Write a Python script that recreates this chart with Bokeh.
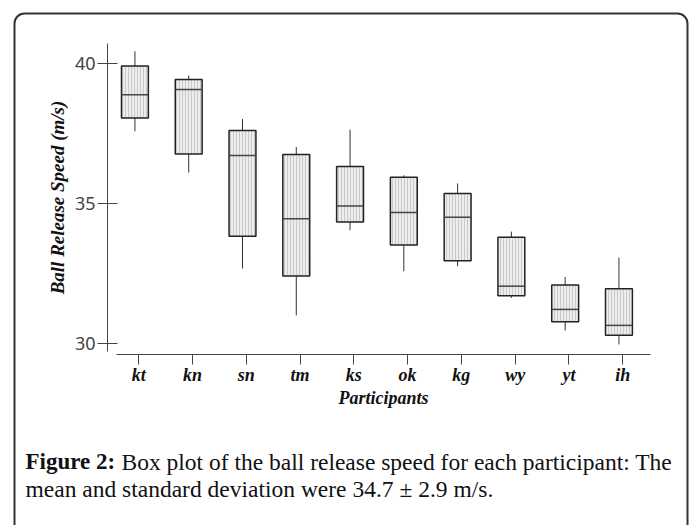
import numpy as np
from bokeh.plotting import figure
from bokeh.models import FixedTicker, BoxAnnotation, Range1d, LinearAxis
from bokeh.core.properties import value
from bokeh.embed import file_html
from bokeh.resources import INLINE

participants = ["kt", "kn", "sn", "tm", "ks", "ok", "kg", "wy", "yt", "ih"]
whisker_high = [40.43, 39.56, 38.01, 37.01, 37.63, 36.00, 35.71, 33.99, 32.37, 33.06]
q3 = [39.90, 39.42, 37.60, 36.74, 36.31, 35.93, 35.35, 33.79, 32.08, 31.95]
median = [38.88, 39.06, 36.71, 34.45, 34.90, 34.67, 34.50, 32.04, 31.21, 30.64]
q1 = [38.05, 36.76, 33.82, 32.40, 34.33, 33.51, 32.95, 31.70, 30.77, 30.29]
whisker_low = [37.57, 36.10, 32.67, 31.00, 34.04, 32.57, 32.75, 31.62, 30.46, 29.96]
y_ticks = [30, 35, 40]
caption_bold = "Figure 2:"
caption_line1 = "Box plot of the ball release speed for each participant: The"
caption_line2 = "mean and standard deviation were 34.7 \u00b1 2.9 m/s."

W, H = 691, 525
# page-pixel -> data mapping (layout only)
X0_PX, X0_VAL, X_SCALE = 107, 0.42, 53.78
Y0_PX, Y0_VAL, Y_SCALE = 354, 29.6, 28.0


def px2x(px):
    return X0_VAL + (px - X0_PX) / X_SCALE


def px2y(py):
    return Y0_VAL + (Y0_PX - py) / Y_SCALE


x = np.arange(1, len(participants) + 1)
box_shift = -0.07
xb = x + box_shift
half = 0.25

p = figure(width=W, height=H, x_range=Range1d(px2x(0), px2x(W)), y_range=Range1d(px2y(H), px2y(0)),
           output_backend="svg", toolbar_location=None, x_axis_type=None, y_axis_type=None,
           min_border=0, min_border_left=0, min_border_right=0, min_border_top=0, min_border_bottom=0)
p.grid.visible = False
p.outline_line_color = None
p.background_fill_color = "white"
p.border_fill_color = "white"

# whiskers
p.segment(x0=xb, x1=xb, y0=q3, y1=whisker_high, line_color="#333333", line_width=1)
p.segment(x0=xb, x1=xb, y0=q1, y1=whisker_low, line_color="#333333", line_width=1)
# boxes
p.vbar(x=xb, width=2 * half, top=q3, bottom=q1, fill_color="#ededed", line_color="#222222",
       line_width=1.5, hatch_pattern="vertical_line", hatch_color="#b0b0b0",
       hatch_scale=3, hatch_weight=0.6)
# medians
p.segment(x0=xb - half, x1=xb + half, y0=median, y1=median, line_color="#444444", line_width=1.5)

# y axis
ya = LinearAxis(fixed_location=px2x(107), bounds=(px2y(351), px2y(43)))
ya.ticker = FixedTicker(ticks=y_ticks)
ya.minor_tick_line_color = None
ya.major_tick_in = 10
ya.major_tick_out = 10
ya.major_label_standoff = 2
ya.axis_line_color = "#444444"
ya.major_tick_line_color = "#444444"
ya.major_label_text_font = "Noto Sans"
ya.major_label_text_font_size = "18px"
ya.major_label_text_color = "#444444"
ya.axis_label = "Ball Release Speed (m/s)"
ya.axis_label_text_font = "Liberation Serif"
ya.axis_label_text_font_style = "bold italic"
ya.axis_label_text_font_size = "19px"
ya.axis_label_text_color = "#111111"
ya.axis_label_standoff = 4
p.add_layout(ya, "left")

# x axis
xa = LinearAxis(fixed_location=px2y(354), bounds=(px2x(116), px2x(650)))
xa.ticker = FixedTicker(ticks=list(x))
xa.major_label_overrides = {int(i): n for i, n in zip(x, participants)}
xa.minor_tick_line_color = None
xa.major_tick_in = 0
xa.major_tick_out = 10
xa.major_label_standoff = 0
xa.axis_line_color = "#444444"
xa.major_tick_line_color = "#444444"
xa.major_label_text_font = "Liberation Serif"
xa.major_label_text_font_style = "bold italic"
xa.major_label_text_font_size = "18px"
xa.major_label_text_color = "#111111"
xa.axis_label = "Participants"
xa.axis_label_text_font = "Liberation Serif"
xa.axis_label_text_font_style = "bold italic"
xa.axis_label_text_font_size = "18px"
xa.axis_label_text_color = "#111111"
xa.axis_label_standoff = 0
p.add_layout(xa, "below")

# caption
cap_font = value("Liberation Serif")
p.text(x=[px2x(25)], y=[px2y(461)], text=[caption_bold], text_font=cap_font,
       text_font_style="bold", text_font_size="23px", text_baseline="alphabetic",
       text_color="#111111")
p.text(x=[px2x(121)], y=[px2y(461)], text=[caption_line1], text_font=cap_font,
       text_font_size="23.5px", text_baseline="alphabetic", text_color="#111111")
p.text(x=[px2x(25)], y=[px2y(488)], text=[caption_line2], text_font=cap_font,
       text_font_size="23.5px", text_baseline="alphabetic", text_color="#111111")

# outer rounded frame
p.add_layout(BoxAnnotation(left=px2x(14), right=px2x(687), top=px2y(13), bottom=px2y(560),
                           fill_alpha=0, line_color="#333333", line_alpha=1.0, line_width=2,
                           border_radius=10))

open("out.html", "w").write(file_html(p, INLINE))
